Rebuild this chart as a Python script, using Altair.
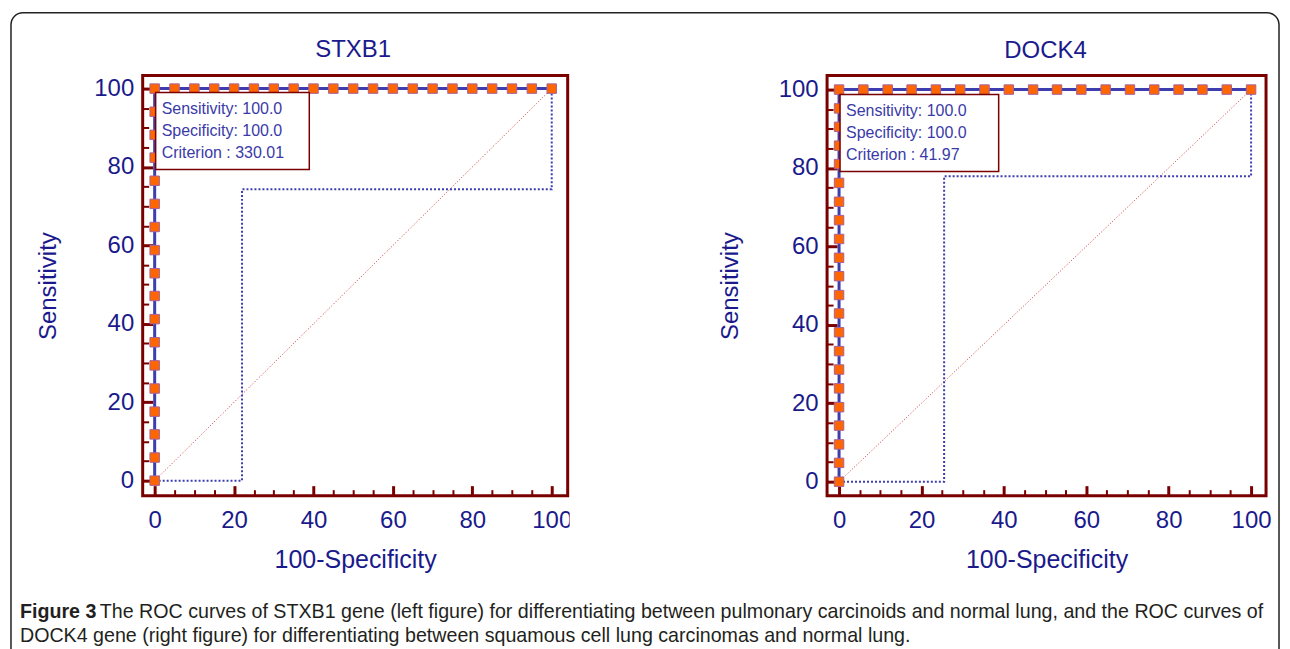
import altair as alt
import pandas as pd

# ---------------- data ----------------
stxb1_fpr = [0, 0, 0, 0, 0, 0, 0, 0, 0, 0, 0, 0, 0, 0, 0, 0, 0, 0,
             5, 10, 15, 20, 25, 30, 35, 40, 45, 50, 55, 60, 65, 70, 75, 80, 85, 90, 95, 100]
stxb1_sens = [0, 5.9, 11.8, 17.6, 23.5, 29.4, 35.3, 41.2, 47.1, 52.9, 58.8, 64.7, 70.6, 76.5, 82.4, 88.2, 94.1, 100,
              100, 100, 100, 100, 100, 100, 100, 100, 100, 100, 100, 100, 100, 100, 100, 100, 100, 100, 100, 100]
stxb1_ci_x = [0, 22, 22, 100, 100]
stxb1_ci_y = [0, 0, 74.3, 74.3, 100]
stxb1_box = ["Sensitivity: 100.0", "Specificity: 100.0", "Criterion : 330.01"]

dock4_fpr = [0, 0, 0, 0, 0, 0, 0, 0, 0, 0, 0, 0, 0, 0, 0, 0, 0, 0, 0, 0, 0, 0,
             5.9, 11.8, 17.6, 23.5, 29.4, 35.3, 41.2, 47.1, 52.9, 58.8, 64.7, 70.6, 76.5, 82.4, 88.2, 94.1, 100]
dock4_sens = [0, 4.8, 9.5, 14.3, 19.0, 23.8, 28.6, 33.3, 38.1, 42.9, 47.6, 52.4, 57.1, 61.9, 66.7, 71.4, 76.2,
              81.0, 85.7, 90.5, 95.2, 100,
              100, 100, 100, 100, 100, 100, 100, 100, 100, 100, 100, 100, 100, 100, 100, 100, 100]
dock4_ci_x = [0, 25.5, 25.5, 100, 100]
dock4_ci_y = [0, 0, 77.9, 77.9, 100]
dock4_box = ["Sensitivity: 100.0", "Specificity: 100.0", "Criterion : 41.97"]

diag_x = [0, 100]
diag_y = [0, 100]

major_ticks = [0, 20, 40, 60, 80, 100]
minor_ticks = [5, 10, 15, 25, 30, 35, 45, 50, 55, 65, 70, 75, 85, 90, 95]

caption_bold = "Figure 3"
caption_line1 = ("The ROC curves of STXB1 gene (left figure) for differentiating between pulmonary "
                 "carcinoids and normal lung, and the ROC curves of")
caption_line2 = ("DOCK4 gene (right figure) for differentiating between squamous cell lung carcinomas "
                 "and normal lung.")

# ---------------- styles ----------------
FRAME = "#7a0000"
NAVY = "#1a1a8c"
LINE = "#3d3db0"
ORANGE = "#ff6600"
EDGE = "#a8619b"
DIAG = "#cc3333"
BOXTEXT = "#3a3aa8"
FONT = "Liberation Sans"
ONE = pd.DataFrame({"k": [0]})


def panel(fpr, sens, cix, ciy, title, box_lines, width, height, xdom, ydom,
          title_x, title_base, ytitle_x, box_geom, box_text_y, extras=None):
    xs = alt.Scale(domain=xdom, nice=False, zero=False)
    ys = alt.Scale(domain=ydom, nice=False, zero=False)
    roc = pd.DataFrame({"fpr": fpr, "sens": sens, "i": list(range(len(fpr)))})
    ci = pd.DataFrame({"fpr": cix, "sens": ciy, "i": list(range(len(cix)))})
    dg = pd.DataFrame({"fpr": diag_x, "sens": diag_y})

    major_x = alt.Axis(values=major_ticks, orient="bottom", offset=-10, tickSize=10, tickWidth=3,
                       tickColor=FRAME, domain=False, grid=False, labelFont=FONT, labelFontSize=24,
                       labelColor=NAVY, labelPadding=13, labelFlush=False, labelOverlap=False,
                       title="100-Specificity", titleFont=FONT, titleFontSize=25, titleColor=NAVY,
                       titleFontWeight="normal", titleX=width / 2, titleY=82,
                       titleBaseline="alphabetic", titleAlign="center")
    major_y = alt.Axis(values=major_ticks, orient="left", offset=-10, tickSize=10, tickWidth=3,
                       tickColor=FRAME, domain=False, grid=False, labelFont=FONT, labelFontSize=24,
                       labelColor=NAVY, labelPadding=9, labelFlush=False, labelOverlap=False,
                       title="Sensitivity", titleFont=FONT, titleFontSize=24, titleColor=NAVY,
                       titleFontWeight="normal", titleX=ytitle_x, titleY=height / 2,
                       titleBaseline="alphabetic", titleAlign="center", titleAngle=270)
    minor_x = alt.Axis(values=minor_ticks, orient="bottom", offset=-6, tickSize=6, tickWidth=2,
                       tickColor=FRAME, domain=False, grid=False, labels=False)
    minor_y = alt.Axis(values=minor_ticks, orient="left", offset=-6, tickSize=6, tickWidth=2,
                       tickColor=FRAME, domain=False, grid=False, labels=False)

    layers = []
    if extras is not None:
        layers.extend(extras["below"])

    diag = alt.Chart(dg).mark_line(color=DIAG, strokeWidth=1, strokeDash=[1, 2]).encode(
        x=alt.X("fpr:Q", scale=xs, axis=minor_x, title=None),
        y=alt.Y("sens:Q", scale=ys, axis=minor_y, title=None),
    )
    cil = alt.Chart(ci).mark_line(color=LINE, strokeWidth=2, strokeDash=[2, 2]).encode(
        x=alt.X("fpr:Q", scale=xs, axis=None),
        y=alt.Y("sens:Q", scale=ys, axis=None),
        order=alt.Order("i:Q"),
    )
    line = alt.Chart(roc).mark_line(color=LINE, strokeWidth=3).encode(
        x=alt.X("fpr:Q", scale=xs, axis=major_x),
        y=alt.Y("sens:Q", scale=ys, axis=major_y),
        order=alt.Order("i:Q"),
    )
    pts = alt.Chart(roc).mark_square(size=90, color=ORANGE, stroke=EDGE, strokeWidth=1, opacity=1).encode(
        x=alt.X("fpr:Q", scale=xs, axis=None),
        y=alt.Y("sens:Q", scale=ys, axis=None),
    )
    bx0, bx1, by0, by1 = box_geom
    box = alt.Chart(ONE).mark_rect(fill="white", stroke=FRAME, strokeWidth=1.5).encode(
        x=alt.value(bx0), x2=alt.value(bx1), y=alt.value(by0), y2=alt.value(by1))
    btxt = alt.Chart(ONE).mark_text(text=box_lines, font=FONT, fontSize=16, color=BOXTEXT,
                                    align="left", baseline="top", lineHeight=22).encode(
        x=alt.value(bx0 + 6), y=alt.value(box_text_y))
    ttl = alt.Chart(ONE).mark_text(text=title, font=FONT, fontSize=24, color=NAVY,
                                   align="center", baseline="alphabetic").encode(
        x=alt.value(title_x), y=alt.value(title_base))
    layers += [diag, cil, line, pts, box, btxt, ttl]
    if extras is not None:
        layers.extend(extras["above"])
    return alt.layer(*layers).resolve_scale(x="independent", y="independent").properties(
        width=width, height=height)


# decorations of the whole figure (frame and caption), drawn with the left panel
border = alt.Chart(ONE).mark_rect(fillOpacity=0, stroke="#222222", strokeWidth=1.5,
                                  cornerRadius=12).encode(
    x=alt.value(-132), x2=alt.value(1139), y=alt.value(-63), y2=alt.value(593))
cut = alt.Chart(ONE).mark_rect(fill="white").encode(
    x=alt.value(428), x2=alt.value(446), y=alt.value(428), y2=alt.value(468))
cap_b = alt.Chart(ONE).mark_text(text=caption_bold, font=FONT, fontSize=19.7, fontWeight="bold",
                                 color="#231f20", align="left", baseline="alphabetic").encode(
    x=alt.value(-123), y=alt.value(544))
cap_1 = alt.Chart(ONE).mark_text(text=caption_line1, font=FONT, fontSize=19.7, color="#231f20",
                                 align="left", baseline="alphabetic").encode(
    x=alt.value(-43), y=alt.value(544))
cap_2 = alt.Chart(ONE).mark_text(text=caption_line2, font=FONT, fontSize=19.7, color="#231f20",
                                 align="left", baseline="alphabetic").encode(
    x=alt.value(-123), y=alt.value(568))

left = panel(stxb1_fpr, stxb1_sens, stxb1_ci_x, stxb1_ci_y, "STXB1", stxb1_box,
             426, 421, [-3.02, 104.02], [-3.82, 103.31],
             211, -19, -97, (13, 167, 17, 94), 25.5,
             extras={"below": [border], "above": [cut, cap_b, cap_1, cap_2]})
right = panel(dock4_fpr, dock4_sens, dock4_ci_x, dock4_ci_y, "DOCK4", dock4_box,
              440, 421, [-2.91, 103.63], [-3.56, 103.56],
              219, -18, -100, (13, 172, 19, 96), 27.5)

chart = alt.hconcat(left, right, spacing=260, bounds="flush").properties(
    padding={"left": 0, "top": 1, "right": 0, "bottom": 0}
).configure_view(stroke=FRAME, strokeWidth=3)

chart.save("out.html", embed_options={"renderer": "svg", "actions": False})
